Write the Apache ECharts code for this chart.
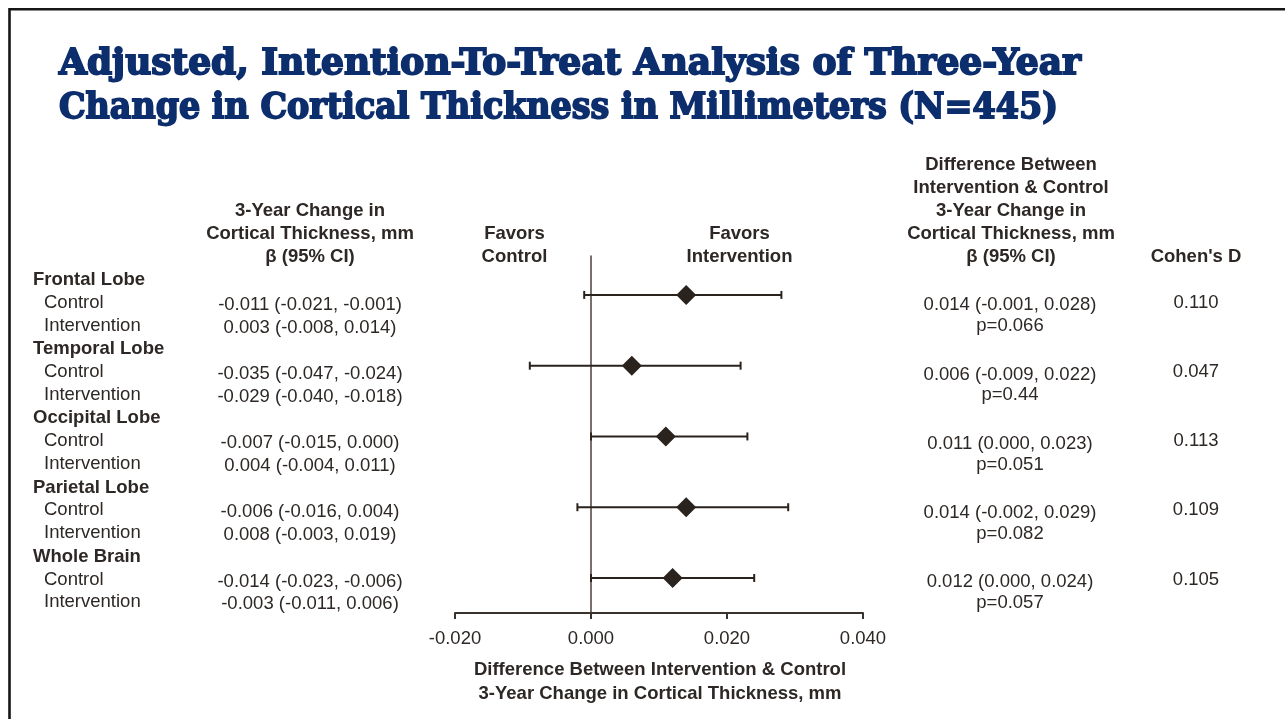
<!DOCTYPE html>
<html>
<head>
<meta charset="utf-8">
<script src="https://cdn.jsdelivr.net/npm/echarts@6/dist/echarts.min.js"></script>
<style>
  html, body { margin: 0; padding: 0; background: #fff; }
  #chart { width: 1285px; height: 719px; }
</style>
</head>
<body>
<div id="chart"></div>
<script>
// Regions and arms
const regions = ['Frontal Lobe', 'Temporal Lobe', 'Occipital Lobe', 'Parietal Lobe', 'Whole Brain'];
const arms = ['Control', 'Intervention'];

// 3-year change within each arm, beta and 95% CI (mm)
const controlEst = [-0.011, -0.035, -0.007, -0.006, -0.014];
const controlLo  = [-0.021, -0.047, -0.015, -0.016, -0.023];
const controlHi  = [-0.001, -0.024,  0.000,  0.004, -0.006];
const interventionEst = [0.003, -0.029, 0.004, 0.008, -0.003];
const interventionLo  = [-0.008, -0.040, -0.004, -0.003, -0.011];
const interventionHi  = [0.014, -0.018, 0.011, 0.019, 0.006];

// Difference between intervention and control, beta and 95% CI (mm)
const diffEst = [0.014, 0.006, 0.011, 0.014, 0.012];
const diffLo  = [-0.001, -0.009, 0.000, -0.002, 0.000];
const diffHi  = [0.028, 0.022, 0.023, 0.029, 0.024];
const pValues = ['0.066', '0.44', '0.051', '0.082', '0.057'];
const cohensD = ['0.110', '0.047', '0.113', '0.109', '0.105'];

// Horizontal axis ticks
const xMin = -0.02, xMax = 0.04, xStep = 0.02;

const TEXT = '#2d2825';
const INK = '#2a221d';
const SANS = "'Liberation Sans', Arial, Helvetica, sans-serif";
const SLAB = "'DejaVu Serif', serif";
const NAVY = '#0d2e6d';
const FS = 18.5;

const fmt = v => v.toFixed(3);
const ci = (e, l, h) => fmt(e) + ' (' + fmt(l) + ', ' + fmt(h) + ')';

const chart = echarts.init(document.getElementById('chart'));

// title lines, each squeezed to its own width
const titleLines = [
  { text: 'Adjusted, Intention-To-Treat Analysis of Three-Year', width: 1022, y: 64.5 },
  { text: 'Change in Cortical Thickness in Millimeters (N=445)', width: 999, y: 108.5 }
];
const titleSize = 35;
const mctx = document.createElement('canvas').getContext('2d');
mctx.font = 'bold ' + titleSize + 'px ' + SLAB;

function txt(x, y, text, opts) {
  opts = opts || {};
  return {
    type: 'text', x: x, y: y, silent: true,
    style: {
      text: text,
      fill: opts.fill || TEXT,
      font: (opts.bold ? 'bold ' : '') + (opts.size || FS) + 'px ' + SANS,
      align: opts.align || 'center',
      verticalAlign: 'middle'
    }
  };
}

const graphics = [];

// frame
graphics.push({
  type: 'polyline', silent: true,
  shape: { points: [[9.5, 719], [9.5, 9.3], [1285, 9.3]] },
  style: { stroke: '#151515', lineWidth: 2.6, fill: null }
});

// title
titleLines.forEach(line => {
  const w = mctx.measureText(line.text).width;
  graphics.push({
    type: 'text', x: 59, y: line.y, scaleX: line.width / w, silent: true,
    style: {
      text: line.text, fill: NAVY, stroke: NAVY, lineWidth: 1.8,
      font: 'bold ' + titleSize + 'px ' + SLAB,
      align: 'left', verticalAlign: 'middle'
    }
  });
});

// column headers
['3-Year Change in', 'Cortical Thickness, mm', '\u03b2 (95% CI)'].forEach((s, i) => {
  graphics.push(txt(310, 211 + i * 23, s, { bold: true }));
});
['Favors', 'Control'].forEach((s, i) => graphics.push(txt(514.5, 234 + i * 23, s, { bold: true })));
['Favors', 'Intervention'].forEach((s, i) => graphics.push(txt(739.5, 234 + i * 23, s, { bold: true })));
['Difference Between', 'Intervention & Control', '3-Year Change in', 'Cortical Thickness, mm', '\u03b2 (95% CI)']
  .forEach((s, i) => graphics.push(txt(1011, 165 + i * 23, s, { bold: true })));
graphics.push(txt(1196, 257, "Cohen's D", { bold: true }));

// table rows
regions.forEach((name, i) => {
  const gy = 280 + 69.2 * i;
  const cy = gy + 22.8, iy = gy + 45.6;
  graphics.push(txt(33, gy, name, { bold: true, align: 'left' }));
  graphics.push(txt(44, cy, arms[0], { align: 'left' }));
  graphics.push(txt(44, iy, arms[1], { align: 'left' }));
  graphics.push(txt(310, cy + 2, ci(controlEst[i], controlLo[i], controlHi[i])));
  graphics.push(txt(310, iy + 2, ci(interventionEst[i], interventionLo[i], interventionHi[i])));
  graphics.push(txt(1010, cy + 2.5, ci(diffEst[i], diffLo[i], diffHi[i])));
  graphics.push(txt(1010, iy + 0.5, 'p=' + pValues[i]));
  graphics.push(txt(1196, cy, cohensD[i]));
});

// axis title
['Difference Between Intervention & Control', '3-Year Change in Cortical Thickness, mm']
  .forEach((s, i) => graphics.push(txt(660, 670 + i * 24, s, { bold: true })));

const rows = regions.map((_, i) => i);

chart.setOption({
  animation: false,
  backgroundColor: '#ffffff',
  grid: { left: 455, right: 422, top: 256, bottom: 106, containLabel: false },
  xAxis: {
    type: 'value', min: xMin, max: xMax, interval: xStep,
    axisLine: { show: true, onZero: false, lineStyle: { color: '#3a322d', width: 2 } },
    axisTick: { show: true, length: 6, lineStyle: { color: '#3a322d', width: 2 } },
    axisLabel: {
      margin: 16, fontSize: 18.5, fontFamily: SANS, color: TEXT,
      formatter: v => fmt(v)
    },
    splitLine: { show: false }
  },
  yAxis: {
    type: 'value', min: -0.55, max: 4.495, inverse: true,
    axisLine: { show: true, onZero: true, lineStyle: { color: '#4a413b', width: 1.5 } },
    axisTick: { show: false },
    axisLabel: { show: false },
    splitLine: { show: false }
  },
  series: [
    {
      type: 'custom',
      name: 'CI',
      data: rows.map(i => [diffLo[i], diffHi[i], i]),
      renderItem: (params, api) => {
        const row = api.value(2);
        const a = api.coord([api.value(0), row]);
        const b = api.coord([api.value(1), row]);
        const st = { stroke: INK, lineWidth: 2 };
        return {
          type: 'group',
          children: [
            { type: 'line', shape: { x1: a[0], y1: a[1], x2: b[0], y2: b[1] }, style: st },
            { type: 'line', shape: { x1: a[0], y1: a[1] - 4, x2: a[0], y2: a[1] + 4 }, style: st },
            { type: 'line', shape: { x1: b[0], y1: b[1] - 4, x2: b[0], y2: b[1] + 4 }, style: st }
          ]
        };
      },
      z: 2
    },
    {
      type: 'scatter',
      name: 'Estimate',
      data: rows.map(i => [diffEst[i], i]),
      symbol: 'diamond',
      symbolSize: 20,
      itemStyle: { color: INK, opacity: 1 },
      z: 3
    }
  ],
  graphic: graphics
});
</script>
</body>
</html>
